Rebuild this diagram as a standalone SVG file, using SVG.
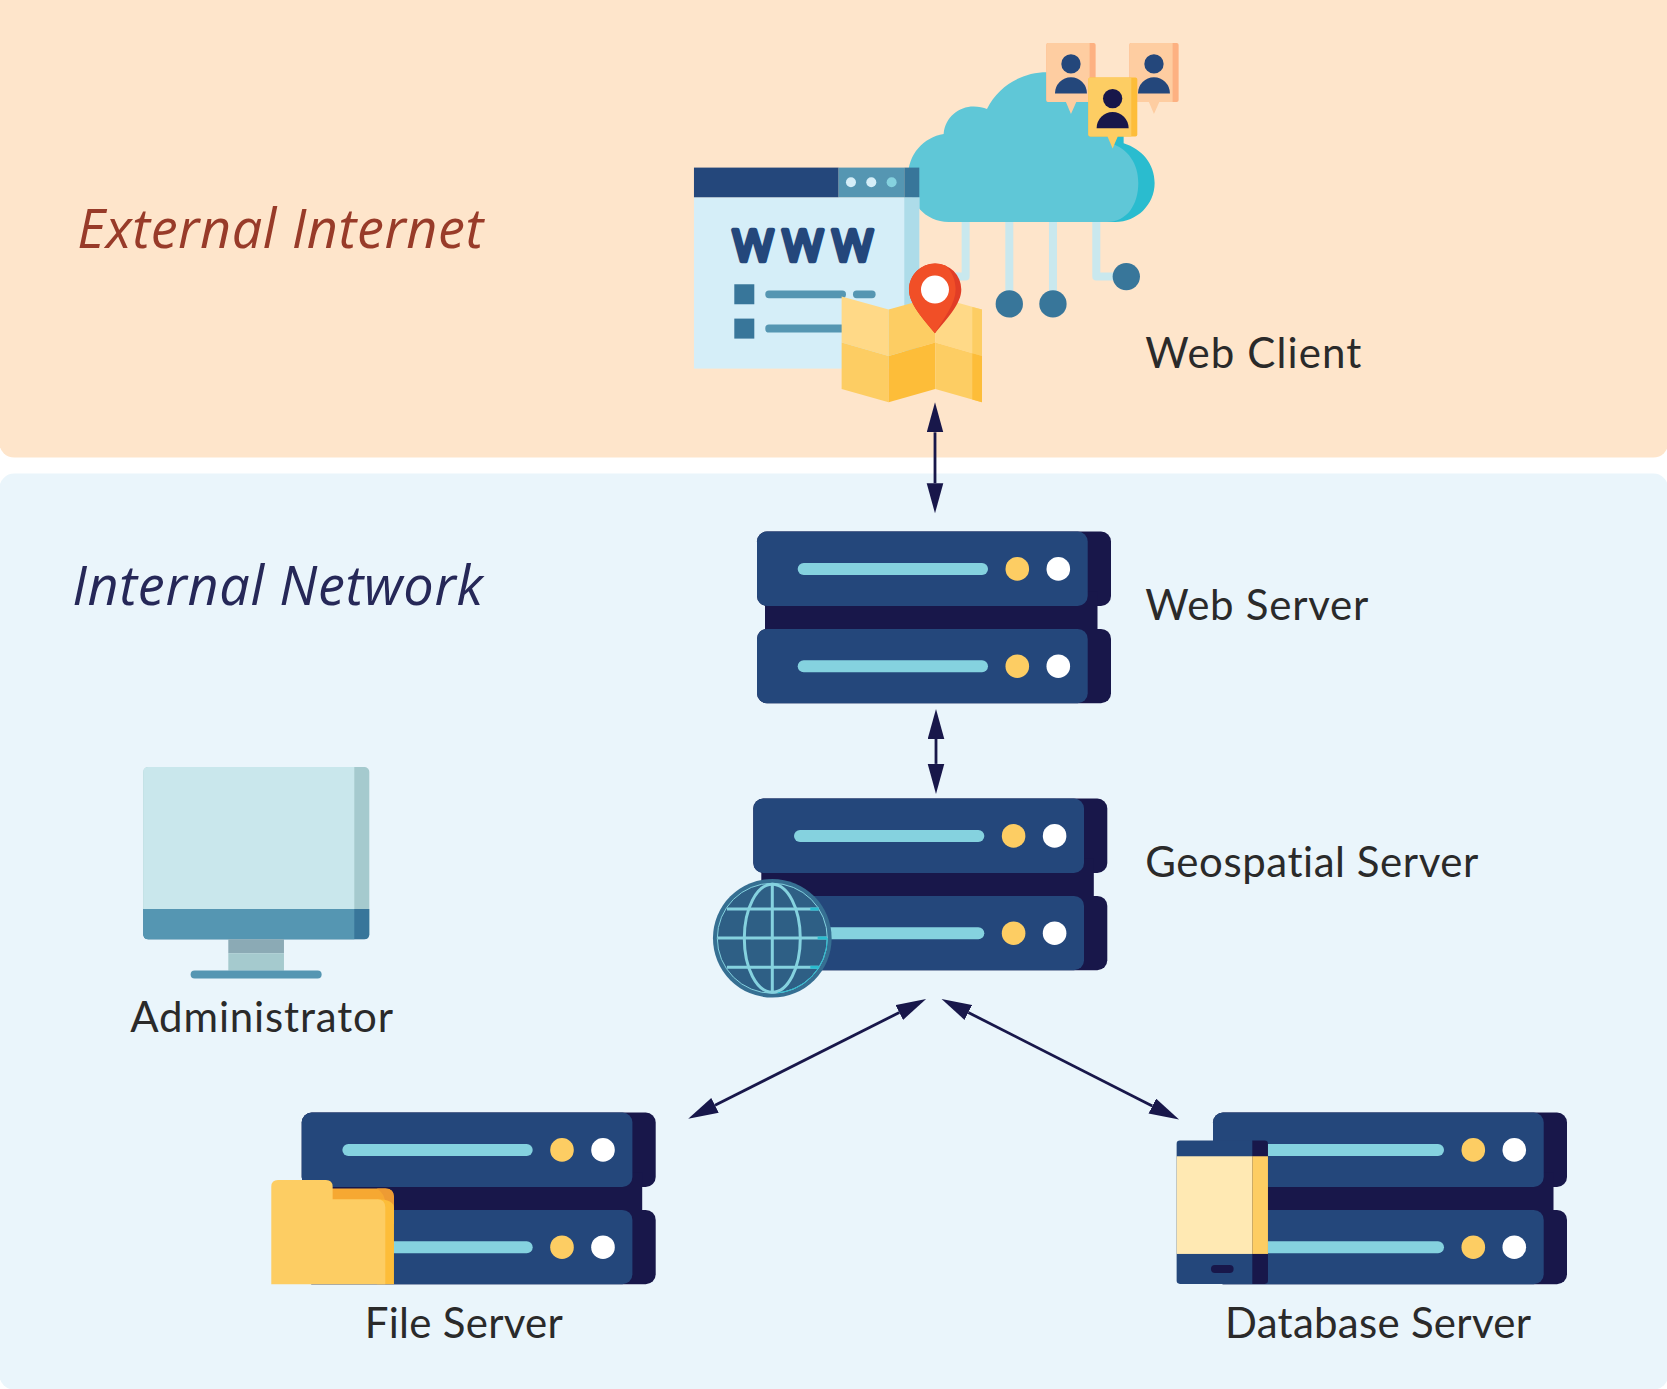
<svg xmlns="http://www.w3.org/2000/svg" width="1667" height="1389" viewBox="0 0 1667 1389">
<style>
.lab{font-family:"Lato","Liberation Sans",sans-serif;font-size:42px;fill:#2a2a2a;font-variant-ligatures:none}
.zone{font-family:"Open Sans","Noto Sans",sans-serif;font-style:italic;font-size:54px}
.navy{fill:#24477b}.ink{fill:#18174a}.sky{fill:#85d2df}.gold{fill:#fdcd63}.amber{fill:#fdbd39}.pale{fill:#ffd987}.white{fill:#fff}
.steel{fill:#5596b2}.teal{fill:#38769a}.wire{fill:none;stroke:#c9e8ee;stroke-width:24;stroke-linejoin:round}
.conn{fill:none;stroke:#18174a;stroke-width:2.8;marker-start:url(#head);marker-end:url(#head)}
.grid{fill:none;stroke:#85d2df;stroke-width:9}
</style>
<defs>
<marker id="head" markerUnits="userSpaceOnUse" markerWidth="31" markerHeight="18" refX="0" refY="8.5" orient="auto-start-reverse"><path d="M0 0.2L30 8.5L0 16.8Z" fill="#18174a"/></marker>
<g id="server">
<rect class="ink" x="0" y="0" width="354" height="74.3" rx="10"/>
<rect class="ink" x="8" y="60" width="332.5" height="50"/>
<rect class="ink" x="0" y="97.3" width="354" height="74.4" rx="10"/>
<rect class="navy" x="0" y="0" width="330.7" height="74.3" rx="10"/>
<rect class="navy" x="0" y="97.3" width="330.7" height="74.4" rx="10"/>
<rect class="sky" x="40.7" y="31.3" width="190.3" height="12" rx="6"/>
<rect class="sky" x="40.7" y="128.6" width="190.3" height="12" rx="6"/>
<circle class="gold" cx="260.3" cy="37.3" r="11.8"/><circle class="white" cx="301.3" cy="37.3" r="11.8"/>
<circle class="gold" cx="260.3" cy="134.6" r="11.8"/><circle class="white" cx="301.3" cy="134.6" r="11.8"/>
</g>
</defs>

<g transform="translate(.3 .6)">
<g id="zones">
<rect x="-1" y="-30" width="1669" height="487" rx="15" fill="#fee5cb"/>
<rect x="-1" y="473" width="1669" height="916" rx="15" fill="#eaf5fb"/>
<text class="zone" x="77" y="247.700" fill="#983b29" textLength="406">External Internet</text>
<text class="zone" x="72" y="604.400" fill="#262858" textLength="410.500">Internal Network</text>
</g>

<g id="web-client">
<g transform="translate(680 20) scale(.33333)">
<g id="cloud">
<path class="wire" d="M856 600V768H790"/><path class="wire" d="M987 600V850"/><path class="wire" d="M1118 600V850"/><path class="wire" d="M1248 600V768H1338"/>
<circle class="teal" cx="987" cy="850" r="41"/><circle class="teal" cx="1118" cy="850" r="41"/><circle class="teal" cx="1338" cy="768" r="41"/>
<path fill="#2abccf" d="M1270 300H1330V368C1385 385 1423 430 1423 487C1423 552 1370 604 1305 604H1270Z"/>
<path fill="#5fc7d7" d="M805 604C735 604 683 545 683 470C683 400 730 350 790 340C795 290 835 258 880 258C895 258 910 262 920 265C955 195 1025 155 1100 155C1180 155 1250 195 1290 280V367C1345 385 1374 430 1374 487C1374 552 1340 604 1280 604Z"/>
</g>
<g id="users">
<rect x="1098" y="67" width="148" height="177" rx="6" fill="#fdb182"/><path fill="#fecda1" d="M1104 67H1228V244H1104Q1098 244 1098 238V73Q1098 67 1104 67ZM1155 240H1190L1172 280Z"/>
<circle class="navy" cx="1172" cy="130" r="29"/><path class="navy" d="M1124 219a48 49 0 0 1 96 0Z"/>
<rect x="1347" y="67" width="148" height="177" rx="6" fill="#fdb182"/><path fill="#fecda1" d="M1353 67H1477V244H1353Q1347 244 1347 238V73Q1347 67 1353 67ZM1404 240H1439L1421 280Z"/>
<circle class="navy" cx="1421" cy="130" r="29"/><path class="navy" d="M1373 219a48 49 0 0 1 96 0Z"/>
<rect class="amber" x="1224" y="171" width="147" height="177" rx="6"/><path class="gold" d="M1230 171H1353V348H1230Q1224 348 1224 342V177Q1224 171 1230 171ZM1280 344H1314L1297 384Z"/>
<circle class="ink" cx="1297" cy="234" r="29"/><path class="ink" d="M1249 323a48 49 0 0 1 96 0Z"/>
</g>
<g id="browser">
<rect x="41" y="530" width="676" height="514" fill="#d5eef8"/>
<rect x="672" y="530" width="45" height="514" fill="#addce9"/>
<rect class="navy" x="41" y="441" width="434" height="89"/>
<rect class="steel" x="475" y="441" width="197" height="89"/>
<rect class="teal" x="672" y="441" width="45" height="89"/>
<circle cx="512" cy="485" r="15" fill="#d5eef8"/><circle cx="573" cy="485" r="15" fill="#d5eef8"/><circle class="sky" cx="634" cy="485" r="15"/>
<text x="157" y="722" font-family="'Open Sans','Noto Sans',sans-serif" font-weight="400" font-size="132" class="navy" stroke="#24477b" stroke-width="14" stroke-linejoin="round" stroke-linecap="round" textLength="421">WWW</text>
<rect class="teal" x="162" y="791" width="60" height="60"/><rect class="teal" x="162" y="894" width="60" height="60"/>
<rect class="steel" x="255" y="810" width="242" height="23" rx="11"/><rect class="steel" x="518" y="810" width="68" height="23" rx="11"/>
<rect class="steel" x="255" y="912" width="300" height="24" rx="11"/>
</g>
<g id="map">
<path class="pale" d="M484 828L625 867V1006L484 966Z"/>
<path class="gold" d="M625 867L765 828V966L625 1006Z"/>
<path class="pale" d="M765 828L905 867V1006L765 966Z"/>
<path class="gold" d="M484 966L625 1006V1145L484 1105Z"/>
<path class="amber" d="M625 1006L765 966V1105L625 1145Z"/>
<path class="gold" d="M765 966L905 1006V1145L765 1105Z"/>
<path class="gold" d="M876 859L905 867V1006L876 998Z"/>
<path class="amber" d="M876 998L905 1006V1145L876 1137Z"/>
</g>
<g id="pin">
<path fill="#e13d26" d="M686 807a78.500 78.500 0 0 1 157 0C843 850 800 895 764 938C728 895 686 850 686 807Z"/>
<path fill="#f14f27" d="M686 807C686 764 722 729 764 729C775 729 785 731 795 735C815 750 826 780 826 807C826 850 790 895 764 938C728 895 686 850 686 807Z"/>
<circle class="white" cx="764" cy="807" r="42"/>
</g>
</g>
<text class="lab" x="1145" y="367" textLength="216">Web Client</text>
</g>

<g id="web-server">
<use href="#server" x="756.700" y="531"/>
<text class="lab" x="1145" y="619.500" textLength="223">Web Server</text>
</g>

<g id="geospatial-server">
<use href="#server" x="753" y="798"/>
<g transform="translate(700 520) scale(.33333)">
<circle cx="216" cy="1253" r="178" fill="#366f92"/>
<circle cx="216" cy="1253" r="165" fill="#2e5f85"/>
<path class="grid" d="M216 1090V1415M80 1165H355M52 1252H380M80 1340H355"/>
<ellipse class="grid" cx="216" cy="1253" rx="84" ry="162"/>
<circle cx="216" cy="1253" r="165" fill="none" stroke="#85d2df" stroke-width="3"/>
<path d="M330 1165H355M352 1252H380M330 1340H355" fill="none" stroke="#2abccf" stroke-width="9"/>
<path d="M232 1417A165 165 0 0 0 381 1253" fill="none" stroke="#2abccf" stroke-width="3"/>
</g>
<text class="lab" x="1145" y="876.500" textLength="333">Geospatial Server</text>
</g>

<g id="administrator">
<g transform="translate(120 750) scale(.33333)">
<rect x="69" y="49" width="678" height="517" rx="15" fill="#a5cace"/>
<path fill="#c9e7ec" d="M84 49H702V475H69V64Q69 49 84 49Z"/>
<path class="teal" d="M69 475H747V551Q747 566 732 566H84Q69 566 69 551Z"/>
<path class="steel" d="M69 475H702V566H84Q69 566 69 551Z"/>
<rect x="324" y="566" width="167" height="42" fill="#8baab5"/>
<rect x="324" y="608" width="167" height="52" fill="#a5cace"/>
<rect class="steel" x="211" y="660" width="393" height="24" rx="12"/>
</g>
<text class="lab" x="130" y="1031" textLength="262.700">Administrator</text>
</g>

<g id="file-server">
<use href="#server" x="301.400" y="1112"/>
<g transform="translate(250 1090) scale(.33333)">
<path fill="#f6a832" d="M230 294H405Q431 294 431 320V400H230Z"/>
<path fill="#ee9b33" d="M380 294H405Q431 294 431 320V340H405Q405 310 380 294Z"/>
<path class="amber" d="M380 326Q431 326 431 352V581H380Z"/>
<path class="gold" d="M83 268H227Q247 268 247 288V326H380Q405 326 405 351V581H63V288Q63 268 83 268Z"/>
</g>
<text class="lab" x="364.500" y="1337.500" textLength="198">File Server</text>
</g>

<g id="database-server">
<use href="#server" x="1212.700" y="1112"/>
<g transform="translate(1160 1090) scale(.33333)">
<path class="navy" d="M59 150H276V580H59Q49 580 49 570V160Q49 150 59 150Z"/>
<path class="ink" d="M276 150H313Q323 150 323 160V570Q323 580 313 580H276Z"/>
<rect x="49" y="197" width="227" height="293" fill="#ffe9b3"/>
<rect class="gold" x="276" y="197" width="47" height="293"/>
<rect class="ink" x="152" y="523" width="68" height="24" rx="12"/>
</g>
<text class="lab" x="1224.700" y="1337.500" textLength="306">Database Server</text>
</g>

<g id="connectors">
<path class="conn" d="M934.700 431.700V482.700"/>
<path class="conn" d="M935.700 738.300V763.300"/>
<path class="conn" d="M714.700 1104.700L899 1011.900"/>
<path class="conn" d="M968 1011.900L1152 1105.400"/>
</g>
</g>
</svg>
